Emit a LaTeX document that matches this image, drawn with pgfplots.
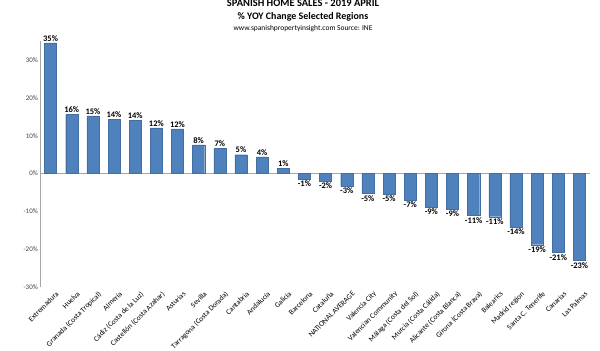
\documentclass[border=0pt]{standalone}
\usepackage{pgfplots}
\pgfplotsset{compat=1.18}
\usepackage{fontspec}
\setmainfont{Carlito}
\definecolor{barblue}{HTML}{4F81BD}
\begin{document}
\begin{tikzpicture}[x=1bp,y=1bp]
\path[use as bounding box] (0,0) rectangle (600,350);
\node[font=\bfseries\fontsize{10.5}{12}\selectfont] at (303,347) {SPANISH HOME SALES - 2019 APRIL};
\node[font=\bfseries\fontsize{10}{12}\selectfont] at (303,333) {\% YOY Change Selected Regions};
\node[font=\fontsize{7.5}{9}\selectfont] at (303,321) {www.spanishpropertyinsight.com Source: INE};
\begin{axis}[
  at={(40bp,63bp)}, anchor=south west,
  scale only axis, width=550bp, height=245.7bp,
  xmin=-0.5, xmax=25.5, ymin=-30, ymax=35,
  ytick={-30,-20,-10,0,10,20,30},
  yticklabel={\pgfmathprintnumber{\tick}\%},
  /pgf/number format/assume math mode=true,
  yticklabel style={font=\fontsize{7}{8}\selectfont, text=black!75, inner sep=1pt, xshift=-1bp},
  xtick={0,...,25},
  xticklabels={Extremadura,Huelva,Granada (Costa Tropical),Almería,Cádiz (Costa de la Luz),Castellón (Costa Azahar),Asturias,Sevilla,Tarragona (Costa Dorada),Cantabria,Andalucía,Galicia,Barcelona,Cataluña,NATIONAL AVERAGE,Valencia City,Valencian Community,Málaga (Costa del Sol),Murcia (Costa Cálida),Alicante (Costa Blanca),Girona (Costa Brava),Balearics,Madrid region,Santa C. Tenerife,Canarias,Las Palmas},
  xticklabel style={font=\fontsize{7.5}{8}\selectfont, rotate=45, anchor=north east, inner sep=1pt, yshift=-5bp, xshift=2bp},
  major tick length=0pt,
  axis x line=bottom, x axis line style={draw=none},
  axis y line=left, y axis line style={draw=gray!70, -},
  clip=false,
]
\addplot[draw=none, no marks] coordinates {(-0.5,0)};
\draw[gray!70] (axis cs:-0.5,0) -- (axis cs:25.5,0);
\addplot[ybar, bar width=0.57, fill=barblue, draw=barblue!85!black, line width=0.3pt,
  nodes near coords={\pgfmathprintnumber[fixed,precision=0]{\pgfplotspointmeta}\%},
  nodes near coords align={vertical},
  every node near coord/.append style={font=\bfseries\fontsize{8.5}{9}\selectfont, text=black, inner sep=1.5pt}]
coordinates {
(0,34.6) (1,15.6) (2,15.3) (3,14.4) (4,14.1) (5,12.1) (6,11.8) (7,7.6) (8,6.7) (9,5.0)
(10,4.4) (11,1.4) (12,-1.4) (13,-1.9) (14,-3.4) (15,-5.3) (16,-5.45) (17,-7.1) (18,-8.9)
(19,-9.4) (20,-11.1) (21,-11.4) (22,-14.1) (23,-18.8) (24,-20.9) (25,-23.0)
};
\end{axis}
\end{tikzpicture}
\end{document}
